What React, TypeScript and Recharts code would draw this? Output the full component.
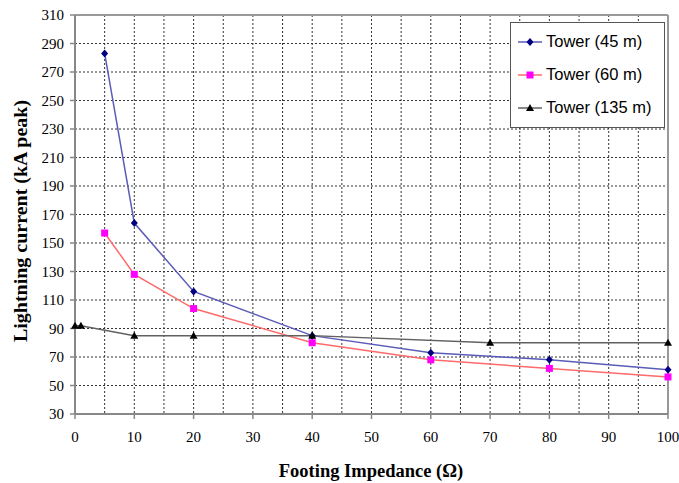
import React from "react";
import {
  LineChart,
  Line,
  XAxis,
  YAxis,
  CartesianGrid,
  ReferenceLine,
} from "recharts";

// footing impedance (ohm) for each tower, and the matching critical current (kA peak)
const x45 = [5, 10, 20, 40, 60, 80, 100];
const y45 = [283, 164, 116, 85, 73, 68, 61];

const x60 = [5, 10, 20, 40, 60, 80, 100];
const y60 = [157, 128, 104, 80, 68, 62, 56];

const x135 = [0, 1, 10, 20, 40, 70, 100];
const y135 = [92, 92, 85, 85, 85, 80, 80];

const xTicks = [0, 5, 10, 15, 20, 25, 30, 35, 40, 45, 50, 55, 60, 65, 70, 75, 80, 85, 90, 95, 100];
const yTicks = [30, 50, 70, 90, 110, 130, 150, 170, 190, 210, 230, 250, 270, 290, 310];

const series = [
  { name: "Tower (45 m)", xs: x45, ys: y45, line: "#5b5bb8", mark: "#000080", shape: "diamond" },
  { name: "Tower (60 m)", xs: x60, ys: y60, line: "#ff6a6a", mark: "#ff00ff", shape: "square" },
  { name: "Tower (135 m)", xs: x135, ys: y135, line: "#606060", mark: "#000000", shape: "triangle" },
];

const W = 679;
const H = 483;
const TOP = 15;
const RIGHT = 11;
const Y_AXIS_W = 75;
const X_AXIS_H = 69;
const PLOT_BOTTOM = H - X_AXIS_H;

const serif = "'Liberation Serif', 'Times New Roman', serif";
const sans = "'Liberation Sans', Arial, sans-serif";

function Marker({ cx, cy, shape, color }: any) {
  if (cx == null || cy == null) return null;
  if (shape === "diamond") {
    return (
      <polygon
        points={`${cx},${cy - 4} ${cx + 3.5},${cy} ${cx},${cy + 4} ${cx - 3.5},${cy}`}
        fill={color}
      />
    );
  }
  if (shape === "square") {
    return <rect x={cx - 3.5} y={cy - 3.5} width={7} height={7} fill={color} />;
  }
  return (
    <polygon
      points={`${cx},${cy - 4} ${cx + 4},${cy + 3} ${cx - 4},${cy + 3}`}
      fill={color}
    />
  );
}

function XTick(props: any) {
  const { x, payload } = props;
  const v = payload.value;
  if (v % 10 !== 0) return <g />;
  return (
    <g>
      <line x1={x} y1={PLOT_BOTTOM} x2={x} y2={PLOT_BOTTOM + 5} stroke="#888" strokeWidth={1.5} />
      <text
        x={x}
        y={PLOT_BOTTOM + 28}
        textAnchor="middle"
        fontFamily={serif}
        fontSize={15}
        fill="#000"
      >
        {v}
      </text>
    </g>
  );
}

export default function App() {
  return (
    <div
      style={{
        position: "absolute",
        left: 0,
        top: 0,
        width: W,
        height: H,
        background: "#fff",
      }}
    >
      <LineChart
        width={W}
        height={H}
        margin={{ top: TOP, right: RIGHT, bottom: 0, left: 0 }}
      >
        <CartesianGrid stroke="#333" strokeDasharray="2 2" strokeWidth={1} />
        <XAxis
          type="number"
          dataKey="x"
          domain={[0, 100]}
          ticks={xTicks}
          interval={0}
          height={X_AXIS_H}
          tick={<XTick />}
          tickLine={false}
          axisLine={{ stroke: "#888", strokeWidth: 2 }}
        />
        <YAxis
          type="number"
          dataKey="y"
          domain={[30, 310]}
          ticks={yTicks}
          interval={0}
          width={Y_AXIS_W}
          tickSize={5}
          tickMargin={6}
          tickLine={{ stroke: "#888", strokeWidth: 1.5 }}
          axisLine={{ stroke: "#888", strokeWidth: 2 }}
          tick={{ fill: "#000", fontFamily: serif, fontSize: 15 }}
        />
        <ReferenceLine y={310} stroke="#999" strokeWidth={2} />
        <ReferenceLine x={100} stroke="#999" strokeWidth={2} />
        {series.map((s) => (
          <Line
            key={s.name}
            name={s.name}
            data={s.xs.map((x, i) => ({ x, y: s.ys[i] }))}
            dataKey="y"
            type="linear"
            stroke={s.line}
            strokeWidth={1.5}
            dot={(p: any) => <Marker key={p.index} cx={p.cx} cy={p.cy} shape={s.shape} color={s.mark} />}
            activeDot={false}
            isAnimationActive={false}
          />
        ))}
      </LineChart>

      {/* axis titles */}
      <div
        style={{
          position: "absolute",
          left: 21,
          top: 221,
          transform: "translate(-50%, -50%) rotate(-90deg) scaleX(1.11)",
          whiteSpace: "nowrap",
          fontFamily: serif,
          fontWeight: "bold",
          fontSize: 18,
          color: "#000",
        }}
      >
        Lightning current (kA peak)
      </div>
      <div
        style={{
          position: "absolute",
          left: 371,
          top: 471,
          transform: "translate(-50%, -50%)",
          whiteSpace: "nowrap",
          fontFamily: serif,
          fontWeight: "bold",
          fontSize: 18.5,
          color: "#000",
        }}
      >
        Footing Impedance (Ω)
      </div>

      {/* legend */}
      <div
        style={{
          position: "absolute",
          left: 510,
          top: 22,
          width: 155,
          height: 106,
          boxSizing: "border-box",
          border: "1.5px solid #555",
          background: "#fff",
          fontFamily: sans,
          fontSize: 16.5,
          color: "#000",
        }}
      >
        {series.map((s, i) => (
          <div
            key={s.name}
            style={{
              position: "absolute",
              left: 7,
              top: 9 + i * 33,
              display: "flex",
              alignItems: "center",
              whiteSpace: "nowrap",
            }}
          >
            <svg width={24} height={18} style={{ marginRight: 4 }}>
              <line x1={0} y1={9} x2={24} y2={9} stroke={s.line} strokeWidth={1.5} />
              <Marker cx={12} cy={9} shape={s.shape} color={s.mark} />
            </svg>
            <span>{s.name}</span>
          </div>
        ))}
      </div>
    </div>
  );
}
